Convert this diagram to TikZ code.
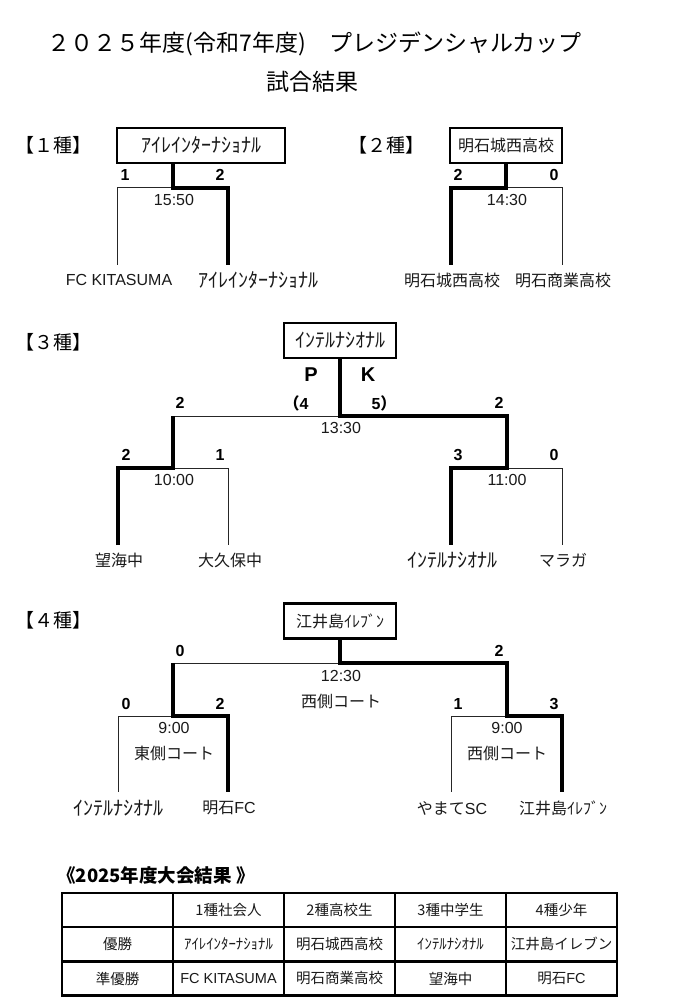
\documentclass[tikz,border=0pt]{standalone}
\usepackage{fontspec}
\setmainfont{Liberation Sans}
\newfontfamily\jp{Noto Sans CJK JP}
\newcommand\fsz[1]{\fontsize{#1}{#1}\selectfont}
\definecolor{ink}{HTML}{1A1A1A}
\tikzset{
  winln/.style={line width=3.4pt, line join=miter, draw=black},
  loseln/.style={line width=1pt, draw=black!85},
  champ/.style={draw, line width=2.6pt, minimum height=35pt, inner sep=0pt, text=ink},
  txt/.style={inner sep=0pt, text=ink, font=\fsz{16}},
  jtxt/.style={inner sep=0pt, text=ink, font=\jp\fsz{16}},
  htxt/.style={inner sep=0pt, text=ink, font=\jp\fsz{20}},
  score/.style={inner sep=0pt, text=black, font=\fsz{16}\bfseries},
  seclabel/.style={inner sep=0pt, text=black, font=\jp\fsz{19}},
  cell/.style={draw, line width=2.2pt, minimum width=111pt, minimum height=34pt, inner sep=0pt, text=ink, font=\jp\fsz{14.5}},
}
\begin{document}
\begin{tikzpicture}[x=1pt,y=-1pt]
\useasboundingbox[fill=white] (0,0) rectangle (684,1008);

% titles
\node[inner sep=0pt, text=black, font=\jp\fsz{23}] (title) at (314.5,44) {２０２５年度(令和7年度)　プレジデンシャルカップ};
\node[inner sep=0pt, text=black, font=\jp\fsz{23}] (subtitle) at (312.5,82) {試合結果};

% ===== 1種 =====
\node[seclabel] (sec1) at (53,145) {【１種】};
\node[champ, minimum width=168pt, font=\jp\fsz{20}] (b1) at (201,145.5) {ｱｲﾚｲﾝﾀｰﾅｼｮﾅﾙ};
\coordinate (j1) at (173,188);
\coordinate (j1l) at (117.5,188);
\coordinate (j1r) at (228,188);
\coordinate (e1l) at (117.5,265);
\coordinate (e1r) at (228,265);
\draw[loseln] (j1) -- (j1l) -- (e1l);
\draw[winln] (b1.south -| j1) -- (j1) -- (j1r) -- (e1r);
\node[score] (s1a) at (125,175) {1};
\node[score] (s1b) at (220,175) {2};
\node[txt] (t1) at (174,200) {15:50};
\node[txt] (n1a) at (119,280) {FC KITASUMA};
\node[htxt] (n1b) at (258,280) {ｱｲﾚｲﾝﾀｰﾅｼｮﾅﾙ};

% ===== 2種 =====
\node[seclabel] (sec2) at (386,145) {【２種】};
\node[champ, minimum width=112pt, font=\jp\fsz{16}] (b2) at (506,145.5) {明石城西高校};
\coordinate (j2) at (506,188);
\coordinate (j2l) at (451,188);
\coordinate (j2r) at (562,188);
\coordinate (e2l) at (451,265);
\coordinate (e2r) at (562,265);
\draw[loseln] (j2) -- (j2r) -- (e2r);
\draw[winln] (b2.south -| j2) -- (j2) -- (j2l) -- (e2l);
\node[score] (s2a) at (458,175) {2};
\node[score] (s2b) at (554,175) {0};
\node[txt] (t2) at (507,200) {14:30};
\node[jtxt] (n2a) at (452,280) {明石城西高校};
\node[jtxt] (n2b) at (563,280) {明石商業高校};

% ===== 3種 =====
\node[seclabel] (sec3) at (53,342) {【３種】};
\node[champ, minimum width=112pt, font=\jp\fsz{20}] (b3) at (340,340.5) {ｲﾝﾃﾙﾅｼｵﾅﾙ};
\coordinate (f3) at (340,416);
\coordinate (f3l) at (173,416);
\coordinate (f3r) at (507,416);
\coordinate (s3l) at (173,468);
\coordinate (s3ll) at (118,468);
\coordinate (s3lr) at (228,468);
\coordinate (e3a) at (118,545);
\coordinate (e3b) at (228,545);
\coordinate (s3r) at (507,468);
\coordinate (s3rl) at (451,468);
\coordinate (s3rr) at (562,468);
\coordinate (e3c) at (451,545);
\coordinate (e3d) at (562,545);
\draw[loseln] (f3) -- (f3l);
\draw[loseln] (s3l) -- (s3lr) -- (e3b);
\draw[loseln] (s3r) -- (s3rr) -- (e3d);
\draw[winln] (b3.south) -- (f3) -- (f3r) -- (s3r) -- (s3rl) -- (e3c);
\draw[winln] (e3a) -- (s3ll) -- (s3l) -- (f3l);
\node[inner sep=0pt, font=\fsz{20}\bfseries] (pk1) at (311,375) {P};
\node[inner sep=0pt, font=\fsz{20}\bfseries] (pk2) at (368,375) {K};
\node[score] (pka) at (296,403) {{\jp （}4};
\node[score] (pkb) at (384,403) {5{\jp ）}};
\node[score] (s3a) at (180,403) {2};
\node[score] (s3b) at (499,403) {2};
\node[txt] (t3) at (341,428) {13:30};
\node[score] (s3c) at (126,455) {2};
\node[score] (s3d) at (220,455) {1};
\node[score] (s3e) at (458,455) {3};
\node[score] (s3f) at (554,455) {0};
\node[txt] (t3a) at (174,480) {10:00};
\node[txt] (t3b) at (507,480) {11:00};
\node[jtxt] (n3a) at (119,560) {望海中};
\node[jtxt] (n3b) at (230,560) {大久保中};
\node[htxt] (n3c) at (452,560) {ｲﾝﾃﾙﾅｼｵﾅﾙ};
\node[jtxt] (n3d) at (563,560) {マラガ};

% ===== 4種 =====
\node[seclabel] (sec4) at (53,620) {【４種】};
\node[champ, minimum width=112pt, font=\jp\fsz{16}] (b4) at (340,621) {江井島ｲﾚﾌﾞﾝ};
\coordinate (f4) at (340,663);
\coordinate (f4l) at (173,663);
\coordinate (f4r) at (507,663);
\coordinate (s4l) at (173,716);
\coordinate (s4ll) at (118,716);
\coordinate (s4lr) at (228,716);
\coordinate (e4a) at (118,792);
\coordinate (e4b) at (228,792);
\coordinate (s4r) at (507,716);
\coordinate (s4rl) at (451,716);
\coordinate (s4rr) at (562,716);
\coordinate (e4c) at (451,792);
\coordinate (e4d) at (562,792);
\draw[loseln] (f4) -- (f4l);
\draw[loseln] (s4l) -- (s4ll) -- (e4a);
\draw[loseln] (s4r) -- (s4rl) -- (e4c);
\draw[winln] (b4.south) -- (f4) -- (f4r) -- (s4r) -- (s4rr) -- (e4d);
\draw[winln] (f4l) -- (s4l) -- (s4lr) -- (e4b);
\node[score] (s4a) at (180,651) {0};
\node[score] (s4b) at (499,651) {2};
\node[score] (s4c) at (126,704) {0};
\node[score] (s4d) at (220,704) {2};
\node[score] (s4e) at (458,704) {1};
\node[score] (s4f) at (554,704) {3};
\node[txt] (t4) at (341,676) {12:30};
\node[jtxt] (c4) at (341,701) {西側コート};
\node[txt] (t4a) at (174,728) {9:00};
\node[jtxt] (c4a) at (174,753) {東側コート};
\node[txt] (t4b) at (507,728) {9:00};
\node[jtxt] (c4b) at (507,753) {西側コート};
\node[htxt] (n4a) at (118,808) {ｲﾝﾃﾙﾅｼｵﾅﾙ};
\node[jtxt] (n4b) at (229,808) {明石\fontspec{Liberation Sans}FC};
\node[jtxt] (n4c) at (452,808) {やまて\fontspec{Liberation Sans}SC};
\node[jtxt] (n4d) at (563,808) {江井島ｲﾚﾌﾞﾝ};

% ===== table =====
\node[inner sep=0pt, text=black, font=\jp\fsz{18.5}\bfseries] (ttitle) at (156,875) {《2025年度大会結果 》};
\node[cell] (c11) at (117.5,910) {};
\node[cell] (c12) at (228.5,910) {1種社会人};
\node[cell] (c13) at (339.5,910) {2種高校生};
\node[cell] (c14) at (450.5,910) {3種中学生};
\node[cell] (c15) at (561.5,910) {4種少年};
\node[cell] (c21) at (117.5,944) {優勝};
\node[cell, font=\jp\fsz{14.8}] (c22) at (228.5,944) {ｱｲﾚｲﾝﾀｰﾅｼｮﾅﾙ};
\node[cell] (c23) at (339.5,944) {明石城西高校};
\node[cell, font=\jp\fsz{14.8}] (c24) at (450.5,944) {ｲﾝﾃﾙﾅｼｵﾅﾙ};
\node[cell] (c25) at (561.5,944) {江井島イレブン};
\node[cell] (c31) at (117.5,978.5) {準優勝};
\node[cell, font=\fsz{14.5}] (c32) at (228.5,978.5) {FC KITASUMA};
\node[cell] (c33) at (339.5,978.5) {明石商業高校};
\node[cell] (c34) at (450.5,978.5) {望海中};
\node[cell] (c35) at (561.5,978.5) {明石\fontspec{Liberation Sans}FC};
\end{tikzpicture}
\end{document}
